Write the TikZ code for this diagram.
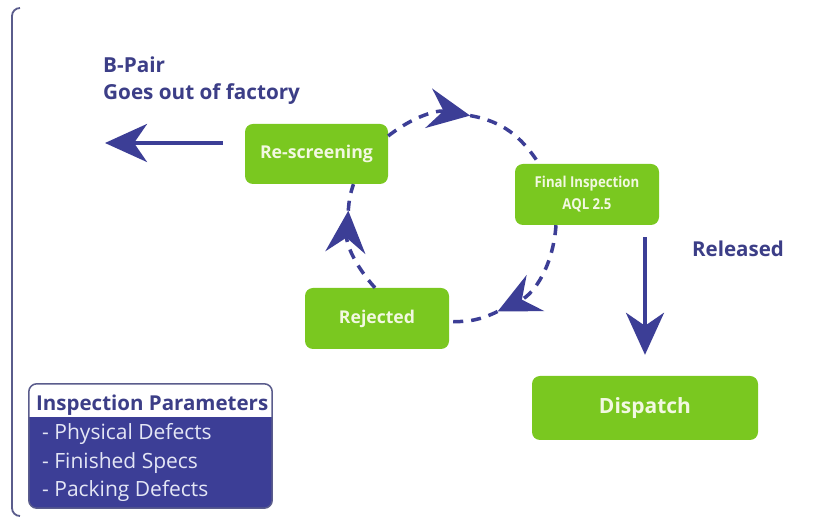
\documentclass[tikz,border=0pt]{standalone}
\usepackage{fontspec}
\setmainfont{Open Sans}
\newfontfamily\narrowfont[FakeStretch=0.88]{Open Sans}
\usetikzlibrary{arrows.meta}
\definecolor{boxgreen}{RGB}{122,200,32}
\definecolor{navy}{RGB}{60,62,150}
\definecolor{navytext}{RGB}{60,62,135}
\definecolor{boxtext}{RGB}{242,248,225}
\definecolor{framecol}{RGB}{90,92,140}
\definecolor{paramtext}{RGB}{228,230,245}
\begin{document}
\begin{tikzpicture}[x=1pt,y=1pt,
  gbox/.style={fill=boxgreen, rounded corners=8pt, text=boxtext, align=center, inner sep=0pt},
  cyc/.style={draw=navy, line width=3.5pt, dash pattern=on 10pt off 8pt},
  cyctip/.style={-{Stealth[length=42pt,width=40pt,inset=15pt]}},
  bigarrow/.style={draw=navy, line width=4pt, -{Stealth[length=42pt,width=38pt,inset=13pt]}},
  lbl/.style={text=navytext, anchor=base west, inner sep=0pt}
]
\useasboundingbox (0,0) rectangle (839,522);
\fill[white] (0,0) rectangle (839,522);
\draw[framecol, line width=1.8pt, rounded corners=8pt] (20,514) -- (12,514) -- (12,6) -- (20,6);

% boxes
\node[gbox, minimum width=143pt, minimum height=60pt, font=\bfseries\fontsize{17.7}{20}\selectfont] (rs) at (316.5,368) {Re-screening};
\node[gbox, minimum width=144pt, minimum height=61pt, font=\narrowfont\bfseries\fontsize{15}{22}\selectfont] (fi) at (587,327.5) {Final Inspection\\AQL 2.5};
\node[gbox, minimum width=144pt, minimum height=61pt, font=\bfseries\fontsize{17.6}{20}\selectfont] (rj) at (377,203.5) {Rejected};
\node[gbox, minimum width=226pt, minimum height=64pt, font=\bfseries\fontsize{21}{24}\selectfont] (dp) at (645,114) {Dispatch};

% labels
\node[lbl, font=\bfseries\fontsize{20.7}{24}\selectfont] (bpair) at (103,449) {B-Pair};
\node[lbl, font=\bfseries\fontsize{20.7}{24}\selectfont] (goes) at (103,422) {Goes out of factory};
\node[lbl, font=\bfseries\fontsize{20.5}{24}\selectfont] (rel) at (692,265) {Released};

% big arrows
\coordinate (bout) at (105,379);
\draw[bigarrow] ([xshift=-22pt,yshift=11pt]rs.west) -- (bout);
\draw[bigarrow] ([xshift=58pt,yshift=-12pt]fi.south) -- ([yshift=21pt]dp.north);

% cycle
\coordinate (t1) at (470.1,406.4);
\coordinate (t2) at (497.6,210.5);
\coordinate (t3) at (348.3,311.3);
\draw[cyc, cyctip] ([yshift=18pt]rs.east) to[out=38,in=170] (t1);
\draw[cyc] (t1) to[out=-10,in=123] ([xshift=-48pt]fi.north);
\draw[cyc, cyctip] ([xshift=-31pt]fi.south) to[out=-94,in=26] (t2);
\draw[cyc] (t2) to[out=206,in=-2] ([yshift=-3pt]rj.east);
\draw[cyc, cyctip] ([xshift=-2pt]rj.north) to[out=132,in=266] (t3);
\draw[cyc] (t3) to[out=86,in=251] ([xshift=37pt]rs.south);

% parameters box
\node[fill=navy, rounded corners=8pt, minimum width=243pt, minimum height=124pt, inner sep=0pt] (params) at (150.5,76) {};
\fill[white] (29,105) [rounded corners=8pt] -- (29,138) -- (272,138) [sharp corners] -- (272,105) -- cycle;
\draw[framecol, line width=1.5pt, rounded corners=8pt] (params.south west) rectangle (params.north east);
\node[lbl, font=\bfseries\fontsize{20.5}{24}\selectfont] (ph) at (36,111) {Inspection Parameters};
\node[lbl, text=paramtext, font=\fontsize{21}{24}\selectfont] (p1) at (42,82) {- Physical Defects};
\node[lbl, text=paramtext, font=\fontsize{21}{24}\selectfont] (p2) at (42,53) {- Finished Specs};
\node[lbl, text=paramtext, font=\fontsize{21}{24}\selectfont] (p3) at (42,25) {- Packing Defects};
\end{tikzpicture}
\end{document}
